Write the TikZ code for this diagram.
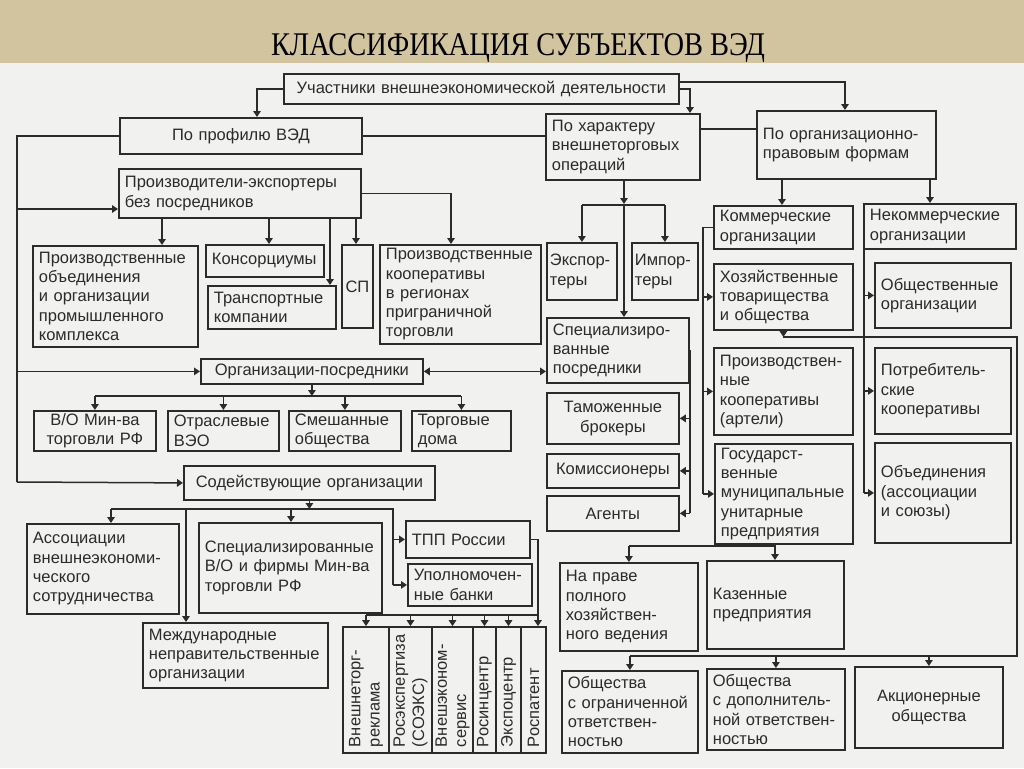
\documentclass[tikz,border=0pt]{standalone}
\usepackage{fontspec}
\usepackage{graphicx}
\setmainfont{Liberation Sans}
\newfontfamily\titlefont{Liberation Serif}
\usetikzlibrary{arrows.meta}
\definecolor{bgc}{HTML}{F1F1EF}
\definecolor{titlebg}{HTML}{D3C4A0}
\definecolor{ink}{HTML}{2B2B2B}
\newcommand\nohyph{\exhyphenpenalty=10000 \hyphenpenalty=10000 \relax}
\tikzset{
 box/.style={draw=ink, line width=1.8pt, fill=bgc, inner xsep=6pt, inner ysep=2pt, font=\fontsize{16.5}{19.3}\selectfont, execute at begin node=\nohyph, text=ink},
 ln/.style={draw=ink, line width=1.5pt},
 arr/.style={ln, -{Triangle[width=7.5pt,length=6pt]}},
 dbl/.style={ln, {Triangle[width=7.5pt,length=6pt]}-{Triangle[width=7.5pt,length=6pt]}},
}
\newcommand\bx[7][left]{%
 \pgfmathsetmacro\bw{#5-#3}%
 \pgfmathsetmacro\bh{#6-#4}%
 \pgfmathsetmacro\tw{#5-#3-12}%
 \node[box, minimum width=\bw pt, minimum height=\bh pt, text width=\tw pt, align=#1, anchor=north west] (#2) at (#3,#4) {#7};}
\newcommand\vbx[4]{%
 \pgfmathsetmacro\bw{#3-#2}%
 \pgfmathsetmacro\cx{(#2+#3)/2}%
 \node[box, rotate=90, minimum width=126pt, minimum height=\bw pt, text width=114pt, align=left, anchor=center] (#1) at (\cx,690) {#4};}
\begin{document}
\begin{tikzpicture}[x=1pt,y=-1pt]
\useasboundingbox (0,0) rectangle (1024,768);
\fill[bgc] (0,0) rectangle (1024,768);
\fill[titlebg] (0,0) rectangle (1024,63);
\node[font=\titlefont\fontsize{28}{30}\selectfont, anchor=base, inner sep=0pt] (title) at (518,56) {\scalebox{1.015}[1.18]{КЛАССИФИКАЦИЯ СУБЪЕКТОВ ВЭД}};

% ---------- boxes ----------
\bx[center]{uch}{283}{73}{678}{103}{Участники внешнеэкономической деятельности}
\bx[center]{prof}{119}{117}{361}{153}{По профилю ВЭД}
\bx{har}{545}{113}{699}{179}{По характеру\\внешнеторговых\\операций}
\bx{org}{756}{110}{935}{178}{По организационно-\\правовым формам}
\bx{proizv}{118}{168}{360}{217}{Производители-экспортеры\\без посредников}
\bx{pob}{32}{245}{197}{346}{Производственные\\объединения\\и организации\\промышленного\\комплекса}
\bx{kons}{205}{244}{323}{276}{Консорциумы}
\bx{trans}{207}{285}{335}{328}{Транспортные\\компании}
\node[box, minimum width=31pt, minimum height=83pt, inner xsep=0pt, anchor=north west] (sp) at (341,244) {СП};
\bx{pkoop}{379}{244}{540}{343}{Производственные\\кооперативы\\в регионах\\приграничной\\торговли}
\bx[center]{posr}{200}{358}{422}{383}{Организации-посредники}
\bx[center]{vo}{33}{410}{155}{450}{В/О Мин-ва\\торговли РФ}
\bx{otr}{167}{410}{278}{450}{Отраслевые\\ВЭО}
\bx{smesh}{288}{410}{400}{450}{Смешанные\\общества}
\bx{torg}{411}{410}{510}{450}{Торговые\\дома}
\bx[center]{sod}{183}{465}{434}{499}{Содействующие организации}
\bx{assoc}{26}{523}{178}{613}{Ассоциации\\внешнеэкономи-\\ческого\\сотрудничества}
\bx{specvo}{198}{522}{381}{612}{Специализированные\\В/О и фирмы Мин-ва\\торговли РФ}
\bx{mezhd}{142}{622}{327}{687}{Международные\\неправительственные\\организации}
\bx{tpp}{405}{520}{529}{557}{ТПП России}
\bx{upol}{407}{563}{531}{605}{Уполномочен-\\ные банки}
\vbx{v1}{343}{389}{Внешнеторг-\\реклама}
\vbx{v2}{389}{432}{Росэкспертиза\\(СОЭКС)}
\vbx{v3}{432}{473}{Внешэконом-\\сервис}
\vbx{v4}{473}{496}{Росинцентр}
\vbx{v5}{496}{521}{Экспоцентр}
\vbx{v6}{521}{546}{Роспатент}
\node[box, minimum width=70pt, minimum height=57pt, text width=64pt, inner xsep=3pt, align=left, anchor=north west] (exp) at (546,242) {Экспор-\\теры};
\node[box, minimum width=66pt, minimum height=57pt, text width=60pt, inner xsep=3pt, align=left, anchor=north west] (imp) at (631,242) {Импор-\\теры};
\bx{specp}{546}{317}{688}{382}{Специализиро-\\ванные\\посредники}
\bx[center]{tam}{546}{392}{678}{443}{Таможенные\\брокеры}
\node[box, minimum width=132pt, minimum height=34pt, inner xsep=2pt, anchor=north west] (kom) at (546,453) {Комиссионеры};
\bx[center]{agen}{546}{495}{678}{530}{Агенты}
\bx{komm}{713}{205}{852}{248}{Коммерческие\\организации}
\bx{hoz}{713}{263}{852}{329}{Хозяйственные\\товарищества\\и общества}
\bx{pkart}{713}{347}{852}{434}{Производствен-\\ные\\кооперативы\\(артели)}
\bx{gos}{714}{443}{852}{543}{Государст-\\венные\\муниципальные\\унитарные\\предприятия}
\bx{napr}{559}{562}{697}{650}{На праве\\полного\\хозяйствен-\\ного ведения}
\bx{kaz}{706}{560}{843}{648}{Казенные\\предприятия}
\bx{nekomm}{863}{203}{1015}{248}{Некоммерческие\\организации}
\bx{obsch}{874}{262}{1010}{327}{Общественные\\организации}
\bx{potr}{874}{347}{1010}{433}{Потребитель-\\ские\\кооперативы}
\bx{obed}{874}{442}{1010}{542}{Объединения\\(ассоциации\\и союзы)}
\bx{ooo}{561}{670}{697}{752}{Общества\\с ограниченной\\ответствен-\\ностью}
\bx{odo}{706}{668}{844}{749}{Общества\\с дополнитель-\\ной ответствен-\\ностью}
\bx[center]{ao}{854}{666}{1002}{747}{Акционерные\\общества}

% ---------- connectors ----------
\draw[arr] (uch.west) -| (prof.north -| 257,0);
\draw[arr] (uch.east) -| (har.north -| 690,0);
\draw[arr] (uch.east |- 0,82) -| (org.north -| 845,0);
\draw[ln] (prof.east) -- (prof.east -| har.west);
\draw[ln] (har.east |- 0,129) -- (org.west |- 0,129);

\coordinate (trunk) at (17,482);
\draw[ln] (prof.west) -| (trunk);
\draw[arr] (trunk |- 0,209) -- (proizv.west |- 0,209);
\draw[arr] (trunk |- posr.west) -- (posr.west);
\draw[arr] (trunk) -- (sod.west);

\draw[arr] (proizv.south -| 162,0) -- (pob.north -| 162,0);
\draw[arr] (proizv.south -| 269,0) -- (kons.north -| 269,0);
\draw[arr] (proizv.south -| 330,0) -- (trans.north -| 330,0);
\draw[arr] (proizv.south -| 356,0) -- (sp.north -| 356,0);
\draw[arr] (proizv.east) -| (pkoop.north -| 451,0);

\draw[dbl] (posr.east) -- (posr.east -| specp.west);
\draw[arr] (posr.south) -- (posr.south |- 0,396);
\draw[ln] (vo.north |- 0,396) -- (torg.north |- 0,396);
\draw[arr] (vo.north |- 0,396) -- (vo.north);
\draw[arr] (otr.north |- 0,396) -- (otr.north);
\draw[arr] (smesh.north |- 0,396) -- (smesh.north);
\draw[arr] (torg.north |- 0,396) -- (torg.north);

\coordinate (sb) at (111,509);
\draw[arr] (sod.south) -- (sod.south |- sb);
\draw[ln] (sb) -- (393,509) -- (upol.west -| 393,0);
\draw[arr] (sb) -- (assoc.north -| sb);
\draw[arr] (186,509) -- (mezhd.north -| 186,0);
\draw[arr] (291,509) -- (specvo.north -| 291,0);
\draw[arr] (tpp.west -| 393,0) -- (tpp.west);
\draw[arr] (upol.west -| 393,0) -- (upol.west);

\draw[ln] (tpp.east) -| (538,615) -- (v1.east |- 0,615);
\draw[arr] (v1.east |- 0,615) -- (v1.east);
\draw[arr] (v2.east |- 0,615) -- (v2.east);
\draw[arr] (v3.east |- 0,615) -- (v3.east);
\draw[arr] (v4.east |- 0,615) -- (v4.east);
\draw[arr] (v5.east |- 0,615) -- (v5.east);
\draw[arr] (538,615) -- (v6.east -| 538,0);

\draw[arr] (har.south -| 624,0) -- (624,204);
\draw[arr] (624,205) -- (specp.north -| 624,0);
\draw[ln] (exp.north |- 0,205) -- (imp.north |- 0,205);
\draw[arr] (exp.north |- 0,205) -- (exp.north);
\draw[arr] (imp.north |- 0,205) -- (imp.north);

\draw[ln] (specp.east) -- (specp.east -| 690,0) -- (agen.east -| 690,0);
\draw[arr] (tam.east -| 690,0) -- (tam.east);
\draw[arr] (kom.east -| 690,0) -- (kom.east);
\draw[arr] (agen.east -| 690,0) -- (agen.east);

\draw[arr] (org.south -| 782,0) -- (komm.north -| 782,0);
\draw[arr] (org.south -| 930,0) -- (nekomm.north -| 930,0);

\draw[ln] (komm.west) -- (komm.west -| 703,0) -- (gos.west -| 703,0);
\draw[arr] (hoz.west -| 703,0) -- (hoz.west);
\draw[arr] (pkart.west -| 703,0) -- (pkart.west);
\draw[arr] (gos.west -| 703,0) -- (gos.west);

\draw[ln] (nekomm.south -| 864,0) -- (obed.west -| 864,0);
\draw[arr] (obsch.west -| 864,0) -- (obsch.west);
\draw[arr] (potr.west -| 864,0) -- (potr.west);
\draw[arr] (obed.west -| 864,0) -- (obed.west);

\draw[arr] (gos.south -| 775,0) -- (kaz.north -| 775,0);
\draw[ln] (775,546) -- (napr.north |- 0,546);
\draw[arr] (napr.north |- 0,546) -- (napr.north);

\draw[arr] (hoz.south) -- (hoz.south |- 0,337);
\draw[ln] (hoz.south |- 0,337) -- (1017,337) -- (1017,656) -- (ooo.north |- 0,656);
\draw[arr] (ooo.north |- 0,656) -- (ooo.north);
\draw[arr] (odo.north |- 0,656) -- (odo.north);
\draw[arr] (ao.north |- 0,656) -- (ao.north);
\end{tikzpicture}
\end{document}
